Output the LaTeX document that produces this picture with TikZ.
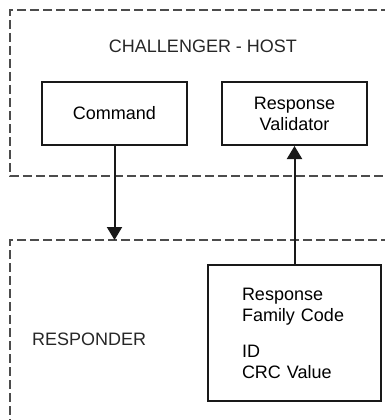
\documentclass[tikz,border=0pt]{standalone}
\usepackage{fontspec}
\setmainfont{Liberation Sans}
\usetikzlibrary{arrows.meta}
\tikzset{
  group/.style={draw=black!70, line width=1.3pt, dash pattern=on 9pt off 4pt},
  block/.style={draw=black!90, line width=2pt, minimum width=145pt, minimum height=63pt, align=center, inner sep=0pt, font=\fontsize{18}{21}\selectfont},
  flow/.style={draw=black!90, line width=2pt, -{Triangle[width=15pt,length=13pt]}},
  lbl/.style={inner sep=0pt, font=\fontsize{18}{21}\selectfont, text=black!85}
}
\begin{document}
\begin{tikzpicture}[x=1pt,y=-1pt]
\useasboundingbox (0,0) rectangle (385,420);
\begin{scope}
\clip (0,0) rectangle (385,420);
\draw[group] (390,10) -- (10,10) -- (10,176) -- (390,176);
\draw[group] (390,240) -- (10,240) -- (10,425);
\end{scope}
\node[lbl] (host) at (203,46) {CHALLENGER - HOST};
\node[lbl, anchor=west] (responder) at (32,339) {RESPONDER};
\node[block] (cmd) at (114.5,113.5) {Command};
\node[block] (val) at (294.5,113.5) {Response\\Validator};
\node[block, minimum width=173pt, minimum height=136pt, text width=105pt, align=left] (resp) at (294.5,333) {Response\\Family Code\\[15pt]ID\\CRC Value};
\coordinate (entry) at (114.5,240);
\draw[flow] (cmd.south) -- (entry);
\draw[flow] (resp.north) -- (val.south);
\end{tikzpicture}
\end{document}
